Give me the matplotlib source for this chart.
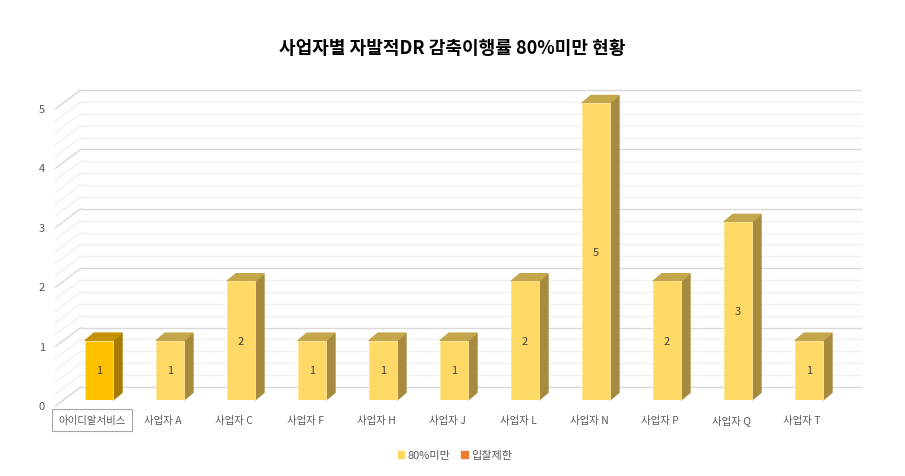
import numpy as np
import matplotlib.pyplot as plt
from matplotlib.patches import Patch

plt.rcParams['font.family'] = ['Noto Sans CJK KR', 'DejaVu Sans']

categories = ['아이디알서비스', '사업자 A', '사업자 C', '사업자 F', '사업자 H', '사업자 J',
              '사업자 L', '사업자 N', '사업자 P', '사업자 Q', '사업자 T']
under80 = [1, 1, 2, 1, 1, 1, 2, 5, 2, 3, 1]
bid_restrict = [0, 0, 0, 0, 0, 0, 0, 0, 0, 0, 0]
yticks = [0, 1, 2, 3, 4, 5]

W, H = 905, 477
PX_X, PX_Y = 71.0, 59.4   # pixels per data unit


def px(dx, dy):
    # pixel offset (right, up) -> data offset
    return dx / PX_X, dy / PX_Y


fig = plt.figure(figsize=(W / 100, H / 100), dpi=100)
ax = fig.add_axes([63.5 / W, (H - 401) / H, 781 / W, 297 / H])
ax.set_xlim(-0.5, 10.5)
ax.set_ylim(0, 5)
ax.axis('off')

# back wall + left wall grid
bx, by = px(17, 13)
fx, fy = px(-8, -6)
x_left_front = -0.5 + fx
x_left_back = -0.5 + bx
x_right_back = (860 - 98) / PX_X
for v in np.arange(0, 5.001, 0.2):
    major = abs(v - round(v)) < 1e-6
    c = '#D9D9D9' if major else '#F0F0F0'
    ax.plot([x_left_back, x_right_back], [v + by, v + by], color=c, lw=1.0,
            clip_on=False, zorder=1)
    ax.plot([x_left_front, x_left_back], [v + fy, v + by], color=c, lw=1.0,
            clip_on=False, zorder=1)

# y tick labels on the front plane
for t in yticks:
    ax.text((44 - 98) / PX_X, t + fy, str(t), ha='right', va='center',
            fontsize=8, color='#595959', clip_on=False)

# bars
x = np.arange(len(categories))
w = 28 / PX_X
ddx, ddy = px(9, 7.5)
front = ['#FFC000'] + ['#FFD966'] * (len(categories) - 1)
side = ['#A67C00'] + ['#A68B3E'] * (len(categories) - 1)
top = ['#C49100'] + ['#C4A64C'] * (len(categories) - 1)

ax.bar(x, under80, width=w, color=front, edgecolor='#FFE699', linewidth=0.6, zorder=3)
ax.bar(x, bid_restrict, bottom=under80, width=w, color='#ED7D31', zorder=3)
for i, v in enumerate(under80):
    r = x[i] + w / 2
    l = x[i] - w / 2
    ax.fill([r, r + ddx, r + ddx, r], [0, ddy, v + ddy, v], color=side[i], zorder=2,
            clip_on=False)
    ax.fill([l, r, r + ddx, l + ddx], [v, v, v + ddy, v + ddy], color=top[i], zorder=2,
            clip_on=False)
    ax.text(x[i], v / 2, str(v), ha='center', va='center', fontsize=8,
            color='#404040', zorder=4)

# category labels (front plane, shifted left by perspective)
lx = -7 / PX_X
for i, c in enumerate(categories):
    kw = {}
    if i == 0:
        kw['bbox'] = dict(boxstyle='square,pad=0.6', fc='white', ec='#A6A6A6', lw=0.8)
    ax.text(x[i] + lx, -20 / PX_Y, c, ha='center', va='center', fontsize=7.5,
            color='#595959', clip_on=False, **kw)

fig.text(452 / W, 1 - 48 / H, '사업자별 자발적DR 감축이행률 80%미만 현황', ha='center',
         va='center', fontsize=13, fontweight='bold', color='#000000')

handles = [Patch(color='#FFD966', label='80%미만'), Patch(color='#ED7D31', label='입찰제한')]
leg = fig.legend(handles=handles, loc='center', bbox_to_anchor=(455 / W, 1 - 456 / H),
                 ncol=2, frameon=False, fontsize=8, handlelength=0.6, handleheight=0.6,
                 handletextpad=0.3, columnspacing=1.0)
for t in leg.get_texts():
    t.set_color('#595959')

fig.savefig('out.png', dpi=100)
